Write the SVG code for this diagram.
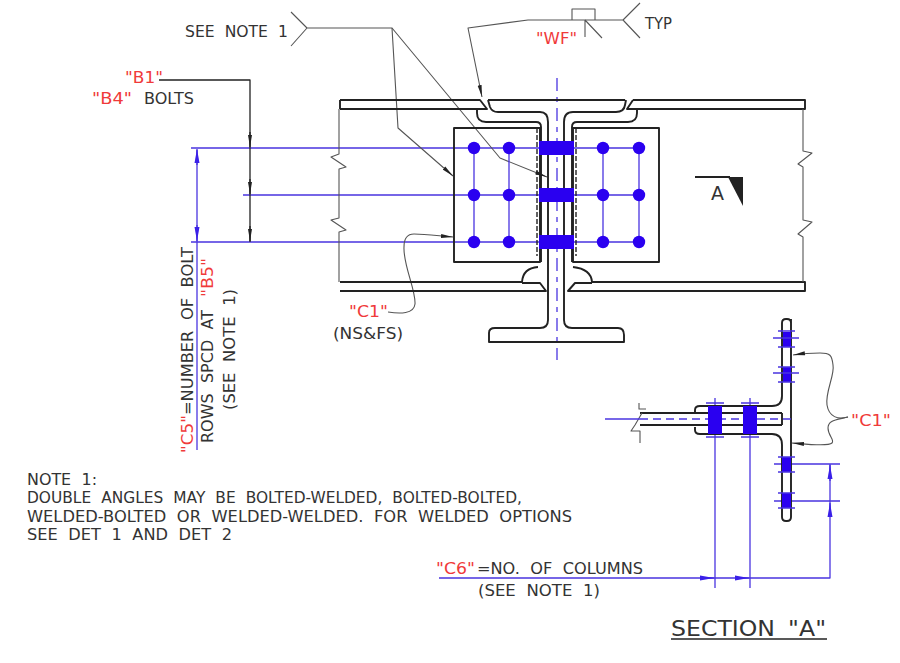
<svg xmlns="http://www.w3.org/2000/svg" width="900" height="663" viewBox="0 0 900 663">
<style>
text{font-family:"DejaVu Sans","Liberation Sans",sans-serif;font-size:15px;fill:#333;word-spacing:5px}
.r{fill:#f03a3a}
.big{font-size:21px}
.k,.t,.b,.bt{fill:none;stroke-linejoin:round}
.k{stroke:#222;stroke-width:1.9}
.t{stroke:#555;stroke-width:1.1}
.b{stroke:#4a35e0;stroke-width:1.3}
.bt{stroke:#4a35e0;stroke-width:1.3;stroke-dasharray:13 6 5 6}
.wd{fill:none;stroke:#222;stroke-width:1.4;stroke-dasharray:5 2}
.bf{fill:#2a00f0}
.af{fill:#222}
.abl{fill:#3a20e8}
</style>
<defs>
<marker id="ak" viewBox="0 0 12 6" refX="12" refY="3" markerWidth="12" markerHeight="6" markerUnits="userSpaceOnUse" orient="auto"><path class="af" d="M0 1 L12 3 L0 5Z"/></marker>
<marker id="ab" viewBox="0 0 14 6" refX="14" refY="3" markerWidth="14" markerHeight="6" markerUnits="userSpaceOnUse" orient="auto"><path class="abl" d="M0 .5 L14 3 L0 5.5Z"/></marker>
<circle id="bolt" r="6.2" class="bf"/>
</defs>

<g id="connectors">
<path class="bt" d="M557 78V360"/>
<path class="b" d="M191 148H640M243 195H640M191 242H640"/>
<path class="b" d="M197 150V450" />
<path class="b" d="M197 165V149" marker-end="url(#ab)"/>
<path class="b" d="M197 225V241" marker-end="url(#ab)"/>
<path class="k" style="stroke-width:1.3" d="M159 80H250V242"/>
<path class="k" style="stroke-width:1.3" d="M250 132V147" marker-end="url(#ak)"/>
<path class="k" style="stroke-width:1.3" d="M250 179V194" marker-end="url(#ak)"/>
<path class="k" style="stroke-width:1.3" d="M250 226V241" marker-end="url(#ak)"/>
<path class="t" d="M291 12L307 28L291 46M307 28H392L398 128L453 176" marker-end="url(#ak)"/>
<path class="t" d="M392 28L500 158L547 177" marker-end="url(#ak)"/>
<path class="t" d="M640 3L623 20L640 38M623 20H528L468 28L482 97" marker-end="url(#ak)"/>
<path class="t" d="M572 20V9H595V20M585 20V37M585 20L602 38"/>
<path class="t" d="M388 312C400 314 414 314 415 304C416 290 403 265 404 247C404 238 408 234 414 234C425 234 440 236 453 237" marker-end="url(#ak)"/>
<path class="t" d="M848 417C838 420 829 417 827 405C825 392 835 375 833 365C832 355 830 353 820 353C810 353 800 354 793 355" marker-end="url(#ak)"/>
<path class="t" d="M848 417C836 420 828 420 828 428C828 436 835 440 832 443C828 447 805 444 792 443" marker-end="url(#ak)"/>
<path class="b" d="M715 398V588M750 398V588"/>
<path class="b" d="M774 464H840M774 501H840M830 464V578H439"/>
<path class="b" d="M830 481V465" marker-end="url(#ab)"/>
<path class="b" d="M830 516V503" marker-end="url(#ab)"/>
<path class="b" d="M700 578H714" marker-end="url(#ab)"/>
<path class="b" d="M735 578H749" marker-end="url(#ab)"/>
<path class="k" style="stroke-width:1.3" d="M671 639H827"/>
</g>

<g id="beam">
<path class="k" d="M340 100H480L487 109H340M340 100V109M633 100H805V109H627L633 100M488 100H625"/>
<path class="k" d="M340 282H522M340 291H546L540 283H522M592 282H805V291H568L575 283H592"/>
<path class="t" d="M339 109V154L331 157L346 167L339 169V218L331 220L346 230L339 232V282"/>
<path class="t" d="M803 109V151L812 153L798 164L803 167V220L812 222L798 234L803 237V282"/>
</g>

<g id="column">
<path class="k" d="M488 100L490 107Q492 112 498 112H540Q548 112 548 122V320Q548 328 540 328H495Q489 328 489 333V342H624V335Q624 328 618 328H572Q564 328 564 320V122Q564 112 573 112H616Q624 112 625 105L626 100"/>
<path class="k" d="M522 282Q523 268 538 267M592 282Q591 269 573 267"/>
</g>

<g id="angles">
<path class="k" d="M477 110V113Q477 122 486 122H536Q541 122 541 127V262M637 110V113Q637 122 628 122H577Q572 122 572 127V262"/>
<rect class="k" x="454" y="128" width="86" height="134"/>
<rect class="k" x="573" y="128" width="86" height="134"/>
<path class="wd" d="M537 128V256M576 128V256"/>
</g>

<g id="bolts">
<path class="b" d="M474 148V242M509 148V242M603 148V242M639 148V242"/>
<rect class="bf" x="539" y="141" width="35" height="14"/>
<rect class="bf" x="539" y="188" width="35" height="14"/>
<rect class="bf" x="539" y="235" width="35" height="14"/>
<use href="#bolt" x="474" y="148"/><use href="#bolt" x="509" y="148"/><use href="#bolt" x="603" y="148"/><use href="#bolt" x="639" y="148"/>
<use href="#bolt" x="474" y="195"/><use href="#bolt" x="509" y="195"/><use href="#bolt" x="603" y="195"/><use href="#bolt" x="639" y="195"/>
<use href="#bolt" x="474" y="242"/><use href="#bolt" x="509" y="242"/><use href="#bolt" x="603" y="242"/><use href="#bolt" x="639" y="242"/>
</g>

<g id="section-mark">
<path class="k" d="M695 177H730"/>
<path class="af" d="M728 177H743V206Z"/>
<text x="711" y="200" style="font-size:19px" textLength="13" lengthAdjust="spacingAndGlyphs">A</text>
</g>

<g id="section-a">
<path class="k" d="M640 413H782M640 425H782M782 413V425"/>
<path class="k" d="M791 319V517Q791 521 787 521H786Q782 521 782 517V445Q782 434 772 434H700Q695 434 695 430V427M695 413V410Q695 406 700 406H772Q782 406 782 396V323Q782 319 786 319H787Q791 319 791 323"/>
<path class="t" d="M639 403V409H646M642 413L635 425L631 431H640V443"/>
<path class="b" d="M605 419H640"/>
<path class="bt" d="M640 419H792" style="stroke-dasharray:8 5"/>
<rect class="bf" x="708" y="406" width="14" height="28"/>
<rect class="bf" x="743" y="406" width="14" height="28"/>
<rect class="bf" x="783" y="332" width="8" height="15"/>
<rect class="bf" x="783" y="367" width="8" height="15"/>
<rect class="bf" x="782" y="457" width="9" height="15"/>
<rect class="bf" x="782" y="493" width="9" height="15"/>
<path class="b" d="M706 403H724M706 437H724M741 403H759M741 437H759"/>
<path class="b" d="M773 338H799M773 373H799M778 331H795M778 347H795M778 367H795M778 382H795M778 457H795M778 472H795M778 493H795M778 508H795"/>
</g>

<g id="labels">
<text lengthAdjust="spacingAndGlyphs" x="185" y="37" textLength="103">SEE NOTE 1</text>
<text lengthAdjust="spacingAndGlyphs" x="645" y="29" textLength="27">TYP</text>
<text lengthAdjust="spacingAndGlyphs" class="r" x="536" y="44" textLength="41">"WF"</text>
<text lengthAdjust="spacingAndGlyphs" class="r" x="125" y="83" textLength="38">"B1"</text>
<text lengthAdjust="spacingAndGlyphs" class="r" x="92" y="104" textLength="40">"B4"</text>
<text lengthAdjust="spacingAndGlyphs" x="144" y="104" textLength="50">BOLTS</text>
<text lengthAdjust="spacingAndGlyphs" class="r" x="349" y="317" textLength="39">"C1"</text>
<text lengthAdjust="spacingAndGlyphs" x="333" y="339" textLength="70">(NS&amp;FS)</text>
<text lengthAdjust="spacingAndGlyphs" class="r" x="851" y="426" textLength="40">"C1"</text>
<text lengthAdjust="spacingAndGlyphs" class="r" transform="rotate(-90 193 453)" x="193" y="453" textLength="38">"C5"</text>
<text lengthAdjust="spacingAndGlyphs" transform="rotate(-90 193 415)" x="193" y="415" textLength="168">=NUMBER OF BOLT</text>
<text lengthAdjust="spacingAndGlyphs" transform="rotate(-90 213 443)" x="213" y="443" textLength="133">ROWS SPCD AT</text>
<text lengthAdjust="spacingAndGlyphs" class="r" transform="rotate(-90 213 297)" x="213" y="297" textLength="39">"B5"</text>
<text lengthAdjust="spacingAndGlyphs" transform="rotate(-90 235 410)" x="235" y="410" textLength="121">(SEE NOTE 1)</text>
<text lengthAdjust="spacingAndGlyphs" x="27" y="485" textLength="70">NOTE 1:</text>
<text lengthAdjust="spacingAndGlyphs" x="27" y="503" textLength="495">DOUBLE ANGLES MAY BE BOLTED-WELDED, BOLTED-BOLTED,</text>
<text lengthAdjust="spacingAndGlyphs" x="27" y="522" textLength="545">WELDED-BOLTED OR WELDED-WELDED. FOR WELDED OPTIONS</text>
<text lengthAdjust="spacingAndGlyphs" x="27" y="540" textLength="205">SEE DET 1 AND DET 2</text>
<text lengthAdjust="spacingAndGlyphs" class="r" x="436" y="574" textLength="39">"C6"</text>
<text lengthAdjust="spacingAndGlyphs" x="477" y="574" textLength="166">=NO. OF COLUMNS</text>
<text lengthAdjust="spacingAndGlyphs" x="478" y="596" textLength="122">(SEE NOTE 1)</text>
<text lengthAdjust="spacingAndGlyphs" class="big" x="671" y="636" textLength="155">SECTION "A"</text>
</g>
</svg>
